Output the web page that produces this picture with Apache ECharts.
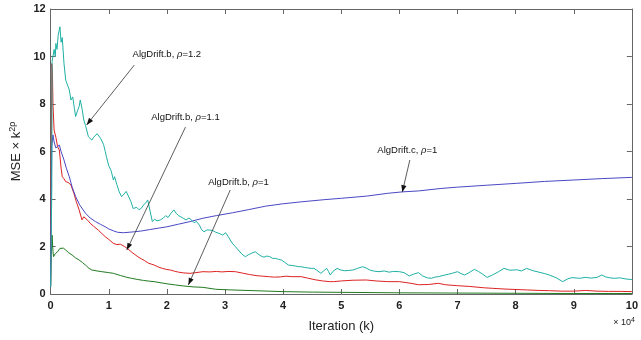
<!DOCTYPE html>
<html>
<head>
<meta charset="utf-8">
<script src="https://cdn.jsdelivr.net/npm/echarts@6/dist/echarts.min.js"></script>
<style>html,body{margin:0;padding:0;background:#fff}#c{width:641px;height:340px}</style>
</head>
<body>
<div id="c"></div>
<script>
// x in units of 10^4 iterations
var xTicks = [0,1,2,3,4,5,6,7,8,9,10];
var yTicks = [0,2,4,6,8,10,12];

var rho12 = [[0,0.3],[0.02,4.5],[0.025,9.8],[0.04,10.0],[0.06,10.3],[0.08,10.0],[0.09,10.55],[0.11,10.3],[0.13,10.9],[0.16,11.25],[0.18,10.6],[0.2,10.8],[0.23,9.7],[0.26,9.0],[0.29,8.8],[0.32,8.6],[0.35,8.17],[0.38,8.3],[0.41,7.8],[0.43,7.47],[0.46,7.7],[0.49,7.89],[0.51,8.17],[0.54,7.8],[0.57,7.33],[0.6,7.1],[0.63,7.04],[0.65,6.62],[0.68,6.7],[0.71,6.48],[0.74,6.6],[0.77,6.62],[0.8,6.75],[0.82,6.69],[0.86,6.55],[0.91,6.3],[0.94,6.0],[0.96,5.78],[1.0,5.4],[1.04,5.2],[1.08,4.8],[1.1,4.94],[1.14,4.6],[1.18,4.3],[1.22,4.1],[1.26,4.2],[1.3,4.32],[1.33,4.24],[1.38,3.9],[1.42,3.6],[1.44,3.54],[1.48,3.65],[1.52,3.55],[1.56,3.61],[1.6,3.75],[1.64,3.85],[1.67,3.96],[1.71,3.5],[1.75,3.05],[1.79,3.15],[1.83,3.08],[1.89,3.12],[1.94,3.2],[1.98,3.3],[2.02,3.22],[2.07,3.4],[2.12,3.54],[2.16,3.4],[2.2,3.3],[2.24,3.25],[2.28,3.19],[2.33,3.12],[2.38,3.2],[2.43,3.1],[2.47,3.0],[2.51,3.05],[2.56,2.9],[2.6,2.7],[2.64,2.62],[2.69,2.7],[2.74,2.69],[2.79,2.67],[2.84,2.6],[2.9,2.55],[2.96,2.48],[3.01,2.58],[3.06,2.4],[3.12,2.15],[3.18,1.99],[3.23,1.85],[3.29,1.68],[3.35,1.57],[3.4,1.65],[3.46,1.72],[3.52,1.78],[3.57,1.68],[3.62,1.6],[3.67,1.55],[3.72,1.6],[3.77,1.57],[3.82,1.5],[3.87,1.5],[3.92,1.46],[3.97,1.43],[4.03,1.33],[4.09,1.22],[4.15,1.2],[4.21,1.18],[4.26,1.15],[4.31,1.15],[4.37,1.12],[4.42,1.1],[4.48,1.08],[4.53,1.08],[4.58,1.0],[4.65,0.87],[4.7,0.98],[4.75,1.08],[4.78,0.95],[4.81,0.8],[4.86,0.96],[4.93,1.08],[4.98,1.02],[5.05,0.98],[5.12,0.99],[5.2,1.01],[5.28,1.08],[5.37,1.15],[5.44,1.08],[5.5,1.0],[5.57,0.96],[5.65,0.94],[5.74,0.97],[5.82,0.92],[5.9,0.95],[6.0,0.94],[6.08,0.9],[6.17,0.76],[6.25,0.84],[6.33,0.9],[6.4,0.76],[6.48,0.68],[6.55,0.66],[6.61,0.71],[6.67,0.73],[6.75,0.78],[6.84,0.83],[6.92,0.88],[7.0,0.94],[7.06,0.86],[7.12,0.8],[7.2,0.9],[7.29,1.04],[7.36,0.95],[7.43,0.84],[7.51,0.7],[7.6,0.8],[7.7,0.93],[7.8,1.08],[7.9,1.0],[8.02,1.02],[8.1,0.97],[8.19,1.08],[8.3,0.98],[8.4,0.92],[8.5,0.86],[8.58,0.8],[8.7,0.68],[8.81,0.52],[8.9,0.64],[8.97,0.69],[9.1,0.66],[9.2,0.7],[9.3,0.67],[9.4,0.7],[9.48,0.8],[9.55,0.72],[9.62,0.68],[9.7,0.66],[9.8,0.68],[9.9,0.63],[10,0.61]];

var rho11 = [[0,0.4],[0.01,5.5],[0.02,9.7],[0.03,9.4],[0.04,8.0],[0.06,6.9],[0.09,6.6],[0.12,6.2],[0.15,6.06],[0.18,5.3],[0.2,4.94],[0.23,4.85],[0.26,4.73],[0.3,4.7],[0.35,4.59],[0.4,4.24],[0.44,3.9],[0.49,3.54],[0.54,3.12],[0.57,3.25],[0.6,3.33],[0.64,3.1],[0.68,2.98],[0.74,2.85],[0.82,2.69],[0.88,2.55],[0.94,2.41],[1.0,2.3],[1.08,2.13],[1.14,2.08],[1.2,2.1],[1.27,2.0],[1.33,1.9],[1.4,1.75],[1.45,1.66],[1.5,1.57],[1.56,1.48],[1.62,1.4],[1.68,1.3],[1.73,1.26],[1.78,1.22],[1.85,1.14],[1.92,1.08],[2.0,1.03],[2.06,1.01],[2.13,0.96],[2.2,0.92],[2.28,0.89],[2.4,0.87],[2.5,0.9],[2.62,0.94],[2.74,0.93],[2.85,0.95],[2.95,0.93],[3.05,0.95],[3.18,0.94],[3.3,0.88],[3.42,0.82],[3.55,0.77],[3.65,0.75],[3.75,0.73],[3.85,0.71],[3.95,0.72],[4.05,0.75],[4.15,0.73],[4.31,0.73],[4.42,0.67],[4.55,0.6],[4.68,0.55],[4.8,0.52],[4.87,0.52],[5.0,0.55],[5.2,0.58],[5.43,0.59],[5.6,0.55],[5.8,0.52],[6.0,0.52],[6.2,0.45],[6.33,0.39],[6.5,0.4],[6.67,0.45],[6.79,0.39],[7.0,0.35],[7.2,0.32],[7.46,0.26],[7.6,0.24],[7.8,0.21],[8.0,0.19],[8.2,0.17],[8.4,0.15],[8.58,0.14],[8.8,0.12],[9.0,0.12],[9.2,0.15],[9.4,0.12],[9.6,0.11],[9.8,0.11],[10,0.1]];

var rho10 = [[0,0.3],[0.01,1.6],[0.025,2.48],[0.04,1.8],[0.05,1.57],[0.08,1.7],[0.12,1.78],[0.16,1.92],[0.19,1.99],[0.22,1.93],[0.26,1.85],[0.31,1.74],[0.37,1.64],[0.43,1.52],[0.49,1.43],[0.55,1.32],[0.6,1.22],[0.66,1.08],[0.71,1.01],[0.8,0.97],[0.88,0.94],[1.0,0.9],[1.08,0.87],[1.2,0.78],[1.3,0.71],[1.39,0.66],[1.5,0.61],[1.6,0.57],[1.7,0.54],[1.78,0.52],[1.9,0.47],[2.0,0.43],[2.15,0.38],[2.28,0.34],[2.45,0.3],[2.62,0.28],[2.84,0.2],[3.0,0.18],[3.5,0.14],[4.0,0.1],[4.5,0.08],[5.0,0.07],[6.0,0.05],[7.0,0.04],[8.0,0.03],[9.0,0.02],[10,0.02]];

var driftC = [[0,0.3],[0.01,4.0],[0.02,6.2],[0.04,6.7],[0.06,6.4],[0.09,6.15],[0.12,6.2],[0.15,6.27],[0.18,6.0],[0.23,5.64],[0.27,5.3],[0.32,4.94],[0.37,4.5],[0.43,4.1],[0.5,3.75],[0.6,3.4],[0.68,3.2],[0.77,3.05],[0.86,2.93],[0.94,2.83],[1.0,2.74],[1.08,2.66],[1.15,2.6],[1.25,2.58],[1.35,2.6],[1.44,2.62],[1.55,2.65],[1.7,2.71],[1.85,2.77],[2.0,2.83],[2.2,2.94],[2.4,3.05],[2.62,3.19],[2.85,3.3],[3.13,3.42],[3.4,3.55],[3.7,3.7],[4.0,3.8],[4.31,3.88],[4.7,3.97],[5.0,4.03],[5.43,4.12],[5.8,4.24],[6.05,4.3],[6.33,4.34],[6.7,4.44],[7.0,4.5],[7.5,4.58],[8.02,4.66],[8.5,4.74],[9.0,4.8],[9.5,4.86],[10,4.91]];

var annTexts = ['=1.2','=1.1','=1','=1'];
var annNames = ['AlgDrift.b, ','AlgDrift.b, ','AlgDrift.b, ','AlgDrift.c, '];
var annTextAt = [[1.41,10.1],[1.73,7.45],[2.71,4.72],[5.62,6.06]];
var annFrom = [[1.44,9.64],[2.32,7.03],[3.09,4.38],[6.18,5.64]];
var annTo = [[0.62,7.12],[1.31,1.85],[2.37,0.38],[6.05,4.29]];

var FONT = "'Liberation Sans', Arial, Helvetica, sans-serif";
var chart = echarts.init(document.getElementById('c'), null, {renderer:'canvas'});

function lineSeries(name, data, color, z){
  return {name:name, type:'line', data:data, showSymbol:false, symbol:'none', sampling:'none', z:z,
    lineStyle:{color:color, width:1}, itemStyle:{color:color}, animation:false};
}
var axisLineStyle = {color:'#666', width:1};
var option = {
  animation:false,
  backgroundColor:'#fff',
  grid:{left:45, right:3, top:9, bottom:46, show:false},
  xAxis:[
    {type:'value', min:0, max:10, interval:1, position:'bottom',
     axisLine:{show:true, onZero:false, lineStyle:axisLineStyle},
     axisTick:{show:true, inside:true, length:5, lineStyle:axisLineStyle},
     axisLabel:{show:true, margin:6, color:'#222', fontSize:11, fontWeight:'bold', fontFamily:FONT,
       formatter:function(v){return xTicks.indexOf(v)>=0 ? String(v) : '';}},
     splitLine:{show:false},
     name:'Iteration (k)', nameLocation:'middle', nameGap:26,
     nameTextStyle:{fontSize:13, color:'#222', fontFamily:FONT}},
    {type:'value', min:0, max:10, interval:1, position:'top',
     axisLine:{show:true, onZero:false, lineStyle:axisLineStyle},
     axisTick:{show:true, inside:true, length:5, lineStyle:axisLineStyle},
     axisLabel:{show:false}, splitLine:{show:false}}
  ],
  yAxis:[
    {type:'value', min:0, max:12, interval:2, position:'left',
     axisLine:{show:true, onZero:false, lineStyle:axisLineStyle},
     axisTick:{show:true, inside:true, length:5, lineStyle:axisLineStyle},
     axisLabel:{show:true, margin:5, color:'#222', fontSize:11, fontWeight:'bold', fontFamily:FONT,
       formatter:function(v){return yTicks.indexOf(v)>=0 ? String(v) : '';}},
     splitLine:{show:false},
     name:'{a|MSE × k}{s|2ρ}', nameLocation:'middle', nameGap:24, nameRotate:90,
     nameTextStyle:{fontSize:13, color:'#222', fontFamily:FONT,
       rich:{a:{fontSize:13, color:'#222', fontFamily:FONT},
             s:{fontSize:9, color:'#222', fontFamily:FONT, verticalAlign:'top', padding:[0,0,7,0]}}}},
    {type:'value', min:0, max:12, interval:2, position:'right',
     axisLine:{show:true, onZero:false, lineStyle:axisLineStyle},
     axisTick:{show:true, inside:true, length:5, lineStyle:axisLineStyle},
     axisLabel:{show:false}, splitLine:{show:false}}
  ],
  series:[
    lineSeries('AlgDrift.b, rho=1', rho10, '#217a21', 2),
    lineSeries('AlgDrift.b, rho=1.1', rho11, '#dd2222', 3),
    lineSeries('AlgDrift.c, rho=1', driftC, '#4a48c4', 4),
    lineSeries('AlgDrift.b, rho=1.2', rho12, '#1fb0a4', 5)
  ]
};
chart.setOption(option);

// annotations (positions from data coordinates)
var g = [];
for (var i=0;i<annTexts.length;i++){
  var tp = chart.convertToPixel({xAxisIndex:0, yAxisIndex:0}, annTextAt[i]);
  var p1 = chart.convertToPixel({xAxisIndex:0, yAxisIndex:0}, annFrom[i]);
  var p2 = chart.convertToPixel({xAxisIndex:0, yAxisIndex:0}, annTo[i]);
  g.push({type:'text', x:tp[0], y:tp[1], z:50,
    style:{text:'{a|'+annNames[i]+'}{r|ρ}{a|'+annTexts[i]+'}', align:'left', verticalAlign:'middle',
      rich:{a:{fontSize:9.5, fill:'#111', fontFamily:FONT}, r:{fontSize:9.5, fill:'#111', fontFamily:FONT, fontStyle:'italic'}}}});
  g.push({type:'line', z:50, shape:{x1:p1[0], y1:p1[1], x2:p2[0], y2:p2[1]}, style:{stroke:'#333', lineWidth:0.8}});
  var dx = p2[0]-p1[0], dy = p2[1]-p1[1], L = Math.sqrt(dx*dx+dy*dy);
  var ux = dx/L, uy = dy/L, hl = 7, hw = 2.6;
  var bx = p2[0]-ux*hl, by = p2[1]-uy*hl;
  g.push({type:'polygon', z:51, shape:{points:[[p2[0],p2[1]],[bx-uy*hw, by+ux*hw],[bx+uy*hw, by-ux*hw]]}, style:{fill:'#111'}});
}
// x-axis exponent label
var ep = chart.convertToPixel({xAxisIndex:0, yAxisIndex:0}, [10, 0]);
g.push({type:'text', x:ep[0]+3, y:ep[1]+29, z:50,
  style:{text:'{a|× 10}{s|4}', align:'right', verticalAlign:'middle',
    rich:{a:{fontSize:9, fill:'#222', fontFamily:FONT}, s:{fontSize:7, fill:'#222', fontFamily:FONT, verticalAlign:'top', padding:[0,0,5,0]}}}});
chart.setOption({graphic:g});
</script>
</body>
</html>
